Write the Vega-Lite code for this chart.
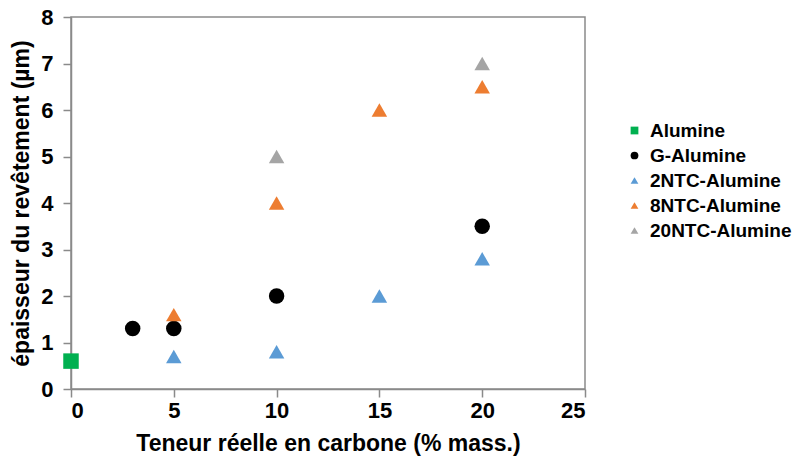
{
  "$schema": "https://vega.github.io/schema/vega-lite/v6.json",
  "autosize": {"type": "none"},
  "padding": {"left": 71, "top": 17, "right": 210, "bottom": 77},
  "width": 514,
  "height": 372,
  "background": "white",
  "config": {
    "font": "Liberation Sans",
    "view": {"stroke": "#8a8a8a", "strokeWidth": 1.5},
    "axis": {
      "grid": false,
      "domainColor": "#8a8a8a",
      "domainWidth": 1.5,
      "tickColor": "#8a8a8a",
      "tickWidth": 1.5,
      "tickSize": 8,
      "labelFont": "Liberation Sans",
      "labelFontWeight": "bold",
      "labelFontSize": 22,
      "labelColor": "#000",
      "titleFont": "Liberation Sans",
      "titleFontWeight": "bold",
      "titleFontSize": 23,
      "titleColor": "#000"
    }
  },
  "data": {
    "values": [
      {"x": 0, "y": 0.6, "serie": "Alumine"},
      {"x": 3, "y": 1.3, "serie": "G-Alumine"},
      {"x": 5, "y": 1.3, "serie": "G-Alumine"},
      {"x": 10, "y": 2.0, "serie": "G-Alumine"},
      {"x": 20, "y": 3.5, "serie": "G-Alumine"},
      {"x": 5, "y": 0.7, "serie": "2NTC-Alumine"},
      {"x": 10, "y": 0.8, "serie": "2NTC-Alumine"},
      {"x": 15, "y": 2.0, "serie": "2NTC-Alumine"},
      {"x": 20, "y": 2.8, "serie": "2NTC-Alumine"},
      {"x": 5, "y": 1.6, "serie": "8NTC-Alumine"},
      {"x": 10, "y": 4.0, "serie": "8NTC-Alumine"},
      {"x": 15, "y": 6.0, "serie": "8NTC-Alumine"},
      {"x": 20, "y": 6.5, "serie": "8NTC-Alumine"},
      {"x": 10, "y": 5.0, "serie": "20NTC-Alumine"},
      {"x": 20, "y": 7.0, "serie": "20NTC-Alumine"}
    ]
  },
  "mark": {"type": "point", "filled": true, "opacity": 1, "size": 240},
  "encoding": {
    "x": {
      "field": "x", "type": "quantitative",
      "scale": {"domain": [0, 25], "nice": false},
      "axis": {"values": [0, 5, 10, 15, 20, 25], "labelPadding": 3, "titlePadding": 11, "title": "Teneur réelle en carbone (% mass.)"}
    },
    "y": {
      "field": "y", "type": "quantitative",
      "scale": {"domain": [0, 8], "nice": false},
      "axis": {"values": [0, 1, 2, 3, 4, 5, 6, 7, 8], "labelPadding": 10, "titlePadding": 7, "title": "épaisseur du revêtement (µm)"}
    },
    "color": {
      "field": "serie", "type": "nominal",
      "scale": {
        "domain": ["Alumine", "G-Alumine", "2NTC-Alumine", "8NTC-Alumine", "20NTC-Alumine"],
        "range": ["#00b050", "#000000", "#5b9bd5", "#ed7d31", "#a5a5a5"]
      },
      "legend": {
        "title": null,
        "orient": "none",
        "legendX": 554,
        "legendY": 104,
        "labelFont": "Liberation Sans",
        "labelFontWeight": "bold",
        "labelFontSize": 19,
        "labelColor": "#000",
        "symbolSize": 60,
        "rowPadding": 5,
        "labelOffset": 6
      }
    },
    "shape": {
      "field": "serie", "type": "nominal",
      "scale": {
        "domain": ["Alumine", "G-Alumine", "2NTC-Alumine", "8NTC-Alumine", "20NTC-Alumine"],
        "range": ["square", "circle", "triangle-up", "triangle-up", "triangle-up"]
      }
    }
  }
}
